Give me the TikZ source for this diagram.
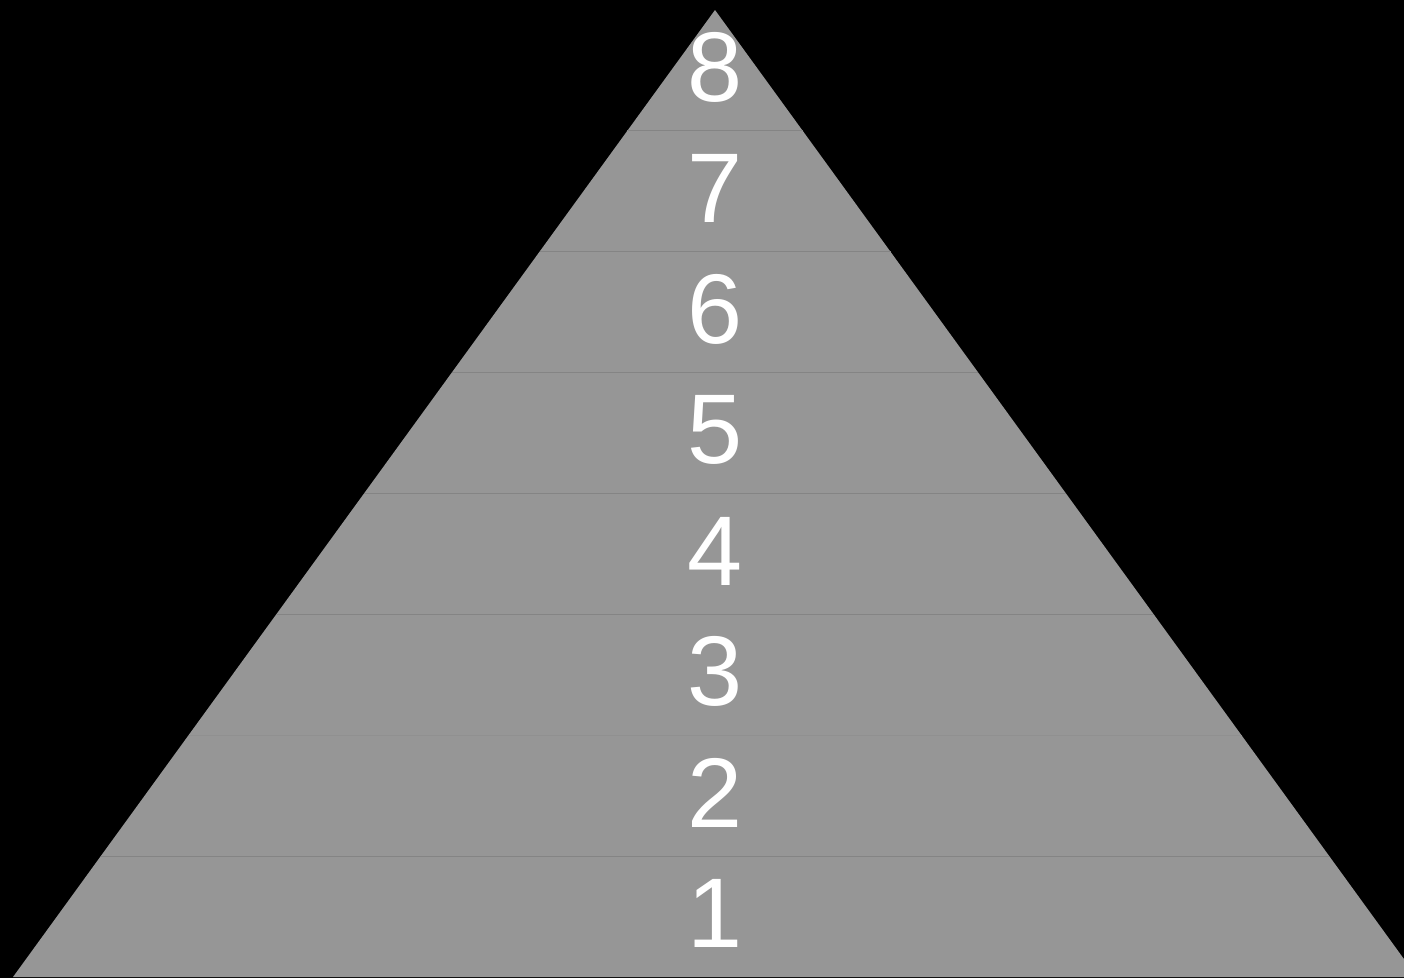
\documentclass[tikz,border=0pt]{standalone}
\usepackage{fontspec}
\setmainfont{Liberation Sans}
\definecolor{layergray}{RGB}{150,150,150}
\definecolor{seamgray}{RGB}{132,132,132}
\tikzset{
  layer/.style={fill=layergray},
  seam/.style={draw=seamgray,line width=0.8pt},
  level/.style={text=white,font=\fontsize{99}{99}\selectfont,inner sep=0pt}
}
\begin{document}
\begin{tikzpicture}[x=1pt,y=-1pt]
        \useasboundingbox (0,0) rectangle (1404,978);
        \fill[black] (0,0) rectangle (1404,978);
        \clip (0,0) rectangle (1404,978);
        % apex and base of the pyramid
        \coordinate (apex) at (715,10);
        \coordinate (baseL) at (13,977);
        \coordinate (baseR) at (1417,977);
        \fill[layer] (apex) -- (baseR) -- (baseL) -- cycle;
        \pgfmathsetmacro{\h}{120.875}
        \foreach \i in {1,...,8}{
            \pgfmathsetmacro{\yb}{977-(\i-1)*\h}
            \pgfmathsetmacro{\wb}{(\yb-10)/967*702}
            \ifnum\i>1
              \ifnum\i=3
                \draw[seam,draw=layergray!96!black] (715-\wb,\yb) -- (715+\wb,\yb);
              \else
                \draw[seam] (715-\wb,\yb) -- (715+\wb,\yb);
              \fi
            \fi
            \node[level] (lvl\i) at (715,\yb-\h/2-3) {\i};
        }
    \end{tikzpicture}
\end{document}
